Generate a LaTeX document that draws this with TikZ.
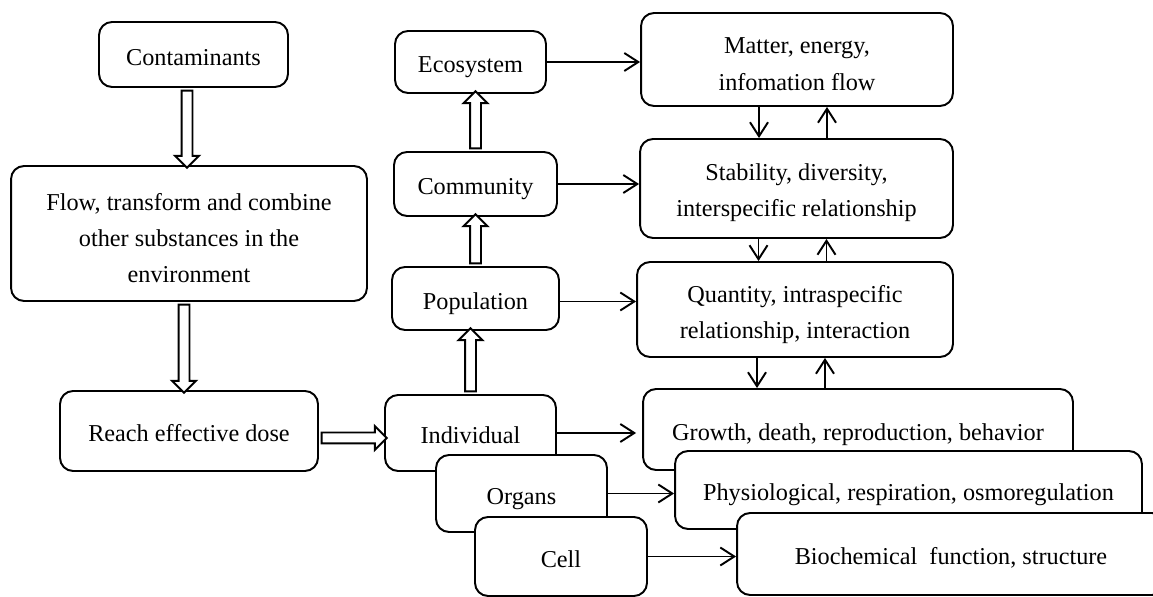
\documentclass[tikz,border=0pt]{standalone}
\usepackage{fontspec}
\setmainfont{Liberation Serif}
\usetikzlibrary{arrows.meta, shapes.arrows, calc}

\tikzset{
  box/.style={draw, fill=white, line width=1.1pt, rounded corners=0.26cm, align=center},
  oneline/.style={text height=15pt, text depth=3pt},
  lower/.style={text height=#1},
  link/.style={line width=1.1pt, -{Straight Barb[length=0.28cm, width=0.36cm]}},
  fatarrow/.style={single arrow, draw, fill=white, line width=1.1pt, inner xsep=0pt,
    inner ysep=0.09cm, outer sep=0pt, minimum width=0.44cm, single arrow head extend=0.13cm},
  hollow/.style={to path={let \p1=(\tikztostart), \p2=(\tikztotarget),
    \n1={veclen(\x2-\x1,\y2-\y1)}, \n2={atan2(\y2-\y1,\x2-\x1)} in
    node[fatarrow, minimum height=\n1, rotate=\n2] at ($(\p1)!0.5!(\p2)$) {}}}
}

\begin{document}
\begin{tikzpicture}[x=0.02cm, y=-0.02cm, font=\fontsize{13.8}{20.6}\selectfont]
    \useasboundingbox (0,0) rectangle (1153,597);
    \clip (0,0) rectangle (1153,597);

    % pathway of the contaminant
    \node[box, oneline, minimum width=3.78cm, minimum height=1.3cm] (cont) at (193.5,54.5) {Contaminants};
    \node[box, lower=56pt, minimum width=7.12cm, minimum height=2.7cm] (flow) at (189,233.5)
        {Flow, transform and combine\\ other substances in the\\ environment};
    \node[box, oneline, minimum width=5.16cm, minimum height=1.6cm] (reach) at (189,431) {Reach effective dose};

    % levels of organisation
    \node[box, oneline, minimum width=3.02cm, minimum height=1.24cm] (eco) at (470.5,62) {Ecosystem};
    \node[box, oneline, minimum width=3.26cm, minimum height=1.28cm] (comm) at (475.5,184) {Community};
    \node[box, oneline, minimum width=3.34cm, minimum height=1.26cm] (popu) at (475.5,298.5) {Population};
    \node[box, oneline, minimum width=3.42cm, minimum height=1.52cm] (indiv) at (470.5,433) {Individual};
    \node[box, oneline, minimum width=3.42cm, minimum height=1.54cm] (organs) at (521.5,493.5) {Organs};
    \node[box, oneline, minimum width=3.44cm, minimum height=1.58cm] (cell) at (561,556.5) {Cell};

    % effects at each level
    \node[box, lower=35pt, minimum width=6.24cm, minimum height=1.86cm] (matter) at (797,59.5)
        {Matter, energy,\\ infomation flow};
    \node[box, lower=35pt, minimum width=6.26cm, minimum height=1.98cm] (stab) at (796.5,188.5)
        {Stability, diversity,\\ interspecific relationship};
    \node[box, lower=36pt, minimum width=6.32cm, minimum height=1.9cm] (quant) at (795,309.5)
        {Quantity, intraspecific\\ relationship, interaction};
    \node[box, oneline, minimum width=8.6cm, minimum height=1.62cm] (growth) at (858,429.5)
        {Growth, death, reproduction, behavior};
    \node[box, oneline, minimum width=9.34cm, minimum height=1.56cm] (physio) at (908.5,490)
        {Physiological, respiration, osmoregulation};
    \node[box, oneline, minimum width=8.56cm, minimum height=1.64cm] (bioch) at (951,554)
        {Biochemical\ \ function, structure};

    % hollow arrows
    \path ([xshift=-0.04cm]cont.south -| flow.north) to[hollow] ([xshift=-0.04cm]flow.north);
    \path ([xshift=-0.1cm]flow.south) to[hollow] ([xshift=-0.1cm]reach.north);
    \path ([yshift=-0.14cm]reach.east) to[hollow] ([yshift=-0.14cm]reach.east -| indiv.west);
    \path (indiv.north) to[hollow] (indiv.north |- popu.south);
    \path (popu.north) to[hollow] (popu.north |- comm.south);
    \path (comm.north) to[hollow] (comm.north |- eco.south);

    % level to effect
    \draw[link] (eco.east) -- (eco.east -| matter.west);
    \draw[link] (comm.east) -- (comm.east -| stab.west);
    \draw[link] ([yshift=-0.06cm]popu.east) -- ([yshift=-0.06cm]popu.east -| quant.west);
    \draw[link, shorten >=0.12cm] (indiv.east) -- (indiv.east -| growth.west);
    \draw[link] (organs.east) -- (organs.east -| physio.west);
    \draw[link] (cell.east) -- (cell.east -| bioch.west);

    % feedback between effects
    \foreach \a/\b in {matter/stab, stab/quant, quant/growth} {
        \draw[link] ([xshift=-0.76cm]\a.south) -- ([xshift=-0.76cm]\a.south |- \b.north);
        \draw[link] ([xshift=0.6cm]\a.south |- \b.north) -- ([xshift=0.6cm]\a.south);
    }
\end{tikzpicture}
\end{document}
